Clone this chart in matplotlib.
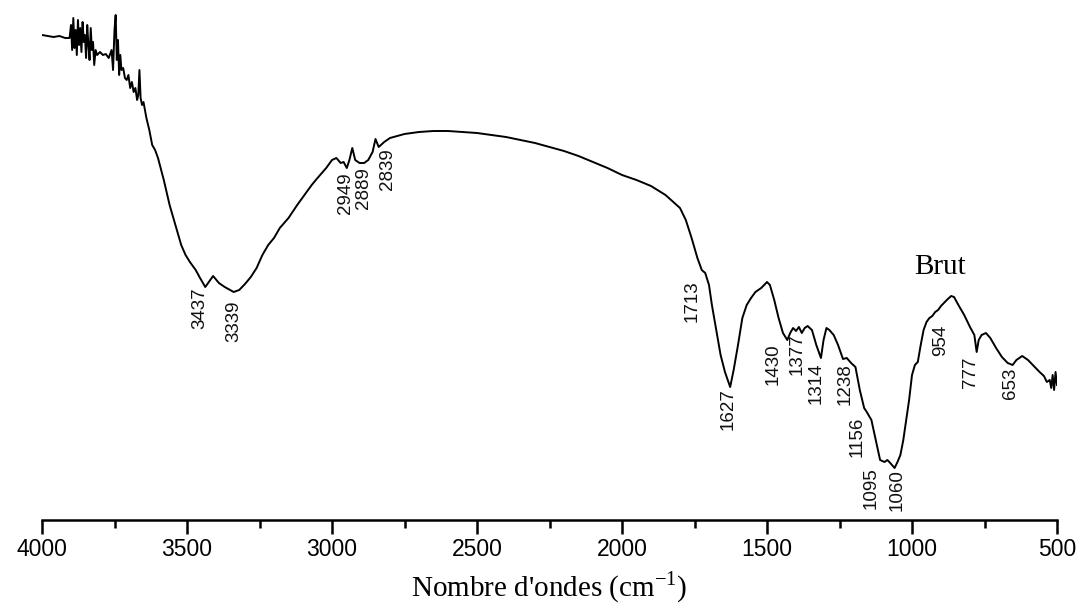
import matplotlib
matplotlib.use("Agg")
import matplotlib.pyplot as plt
from matplotlib.ticker import MultipleLocator

# ---- data: wavenumber (cm-1) and transmittance (arbitrary units) ----
wavenumber = [
    4000, 3980, 3960, 3940, 3920, 3905, 3900, 3896, 3892, 3888, 3884, 3880, 3876,
    3872, 3868, 3864, 3860, 3856, 3852, 3848, 3844, 3840, 3836, 3832, 3828, 3824,
    3820, 3815, 3810, 3800, 3790, 3780, 3770, 3760, 3755, 3750, 3746, 3742, 3738,
    3734, 3730, 3726, 3720, 3714, 3708, 3702, 3696, 3690, 3684, 3678, 3672, 3668,
    3664, 3660, 3655, 3650, 3645, 3640, 3630, 3620, 3610, 3600, 3580, 3560, 3540,
    3520, 3505, 3490, 3470, 3455, 3437, 3420, 3410, 3390, 3370, 3339, 3320, 3300,
    3280, 3260, 3240, 3220, 3200, 3180, 3150, 3120, 3100, 3070, 3050, 3020, 3000,
    2985, 2970, 2960, 2949, 2940, 2930, 2920, 2905, 2889, 2875, 2860, 2850, 2839,
    2820, 2800, 2750, 2700, 2650, 2600, 2550, 2500, 2450, 2400, 2350, 2300, 2250,
    2200, 2150, 2100, 2050, 2000, 1950, 1900, 1850, 1800, 1780, 1760, 1740, 1725,
    1713, 1700, 1690, 1675, 1660, 1645, 1627, 1615, 1600, 1585, 1570, 1555, 1540,
    1520, 1500, 1490, 1475, 1460, 1445, 1430, 1420, 1410, 1400, 1390, 1380, 1370,
    1360, 1345, 1330, 1314, 1305, 1295, 1285, 1270, 1255, 1238, 1225, 1210, 1195,
    1180, 1165, 1156, 1140, 1125, 1110, 1095, 1085, 1075, 1060, 1050, 1040, 1030,
    1020, 1010, 1000, 990, 980, 970, 960, 950, 940, 930, 920, 910, 900, 880, 865,
    855, 840, 820, 800, 785, 777, 770, 760, 745, 730, 710, 690, 670, 653, 640, 620,
    600, 580, 560, 545, 535, 525, 520, 515, 510, 505, 500,
]
transmittance = [
    97.0, 96.8, 96.6, 96.8, 96.4, 96.4, 99.0, 94.0, 100.4, 94.4, 98.0, 93.0, 100.0,
    95.0, 98.4, 93.6, 99.6, 95.6, 97.0, 92.4, 99.0, 95.0, 92.0, 98.4, 94.0, 95.6,
    91.0, 94.0, 93.0, 93.6, 93.0, 93.2, 92.4, 94.0, 90.0, 98.0, 101.0, 92.0, 96.0,
    89.0, 93.0, 90.0, 90.4, 88.4, 88.0, 89.0, 86.4, 87.6, 85.6, 86.4, 84.0, 85.0,
    90.0, 84.4, 83.0, 83.6, 82.0, 80.4, 78.0, 75.0, 74.0, 72.4, 68.0, 63.0, 59.0,
    55.0, 53.0, 51.6, 50.0, 48.4, 46.6, 48.0, 48.8, 47.4, 46.6, 45.6, 46.0, 47.2,
    48.6, 50.4, 53.0, 55.0, 56.4, 58.4, 60.4, 63.0, 64.6, 67.0, 68.4, 70.4, 72.0,
    72.4, 71.4, 71.6, 70.4, 72.0, 74.4, 72.0, 71.4, 71.4, 72.0, 73.6, 76.2, 74.6,
    75.6, 76.4, 77.2, 77.6, 77.8, 77.8, 77.6, 77.4, 77.0, 76.6, 76.0, 75.4, 74.6,
    73.8, 72.8, 71.6, 70.4, 69.0, 68.0, 66.8, 65.0, 62.4, 60.0, 56.4, 52.4, 50.0,
    49.4, 47.0, 43.0, 38.0, 33.0, 29.6, 26.6, 30.0, 35.0, 40.4, 43.0, 44.4, 45.6,
    46.4, 47.6, 47.0, 44.0, 40.4, 37.4, 36.0, 37.4, 38.4, 37.8, 38.6, 37.4, 38.4,
    38.8, 38.0, 35.0, 32.4, 36.0, 38.4, 38.0, 37.0, 35.0, 32.2, 32.4, 31.4, 30.6,
    26.0, 22.4, 21.6, 20.0, 16.0, 12.0, 11.6, 12.0, 11.4, 10.4, 11.6, 13.0, 16.0,
    20.0, 24.0, 29.0, 31.0, 31.6, 35.0, 38.0, 39.6, 40.4, 40.8, 41.6, 42.0, 42.8,
    44.0, 44.8, 44.6, 43.0, 41.0, 38.6, 37.0, 33.6, 36.0, 37.0, 37.4, 36.4, 34.4,
    32.6, 31.4, 31.0, 32.0, 32.8, 32.0, 30.8, 29.6, 28.8, 27.6, 28.0, 26.4, 29.0,
    26.0, 29.6, 27.0,
]

peak_labels = ["3437", "3339", "2949", "2889", "2839", "1713", "1627", "1430",
               "1377", "1314", "1238", "1156", "1095", "1060", "954", "777", "653"]
sample_name = "Brut"
x_label_text = "Nombre d'ondes (cm$^{\\mathregular{-1}}$)"
x_ticks = [4000, 3500, 3000, 2500, 2000, 1500, 1000, 500]

# ---- layout: anchor (top of rotated text) for each peak label, in data units ----
label_anchor = {
    "3437": (3455, 46.6), "3339": (3338, 44.0), "2949": (2955, 69.6),
    "2889": (2893, 70.6), "2839": (2810, 74.4), "1713": (1759, 48.0),
    "1627": (1634, 26.4), "1430": (1479, 35.4), "1377": (1397, 37.4),
    "1314": (1331, 31.4), "1238": (1231, 31.4), "1156": (1190, 20.6),
    "1095": (1141, 10.6), "1060": (1052, 10.2), "954": (903, 39.0),
    "777": (800, 32.6), "653": (662, 30.4),
}
name_anchor = (903, 50.6)

W, H = 1082, 608
fig = plt.figure(figsize=(W / 100, H / 100), dpi=100)
ax = fig.add_axes([42 / W, (H - 520) / H, (1057 - 42) / W, (520 - 10) / H])

ax.plot(wavenumber, transmittance, color="black", lw=1.4)
ax.set_xlim(4000, 500)
ax.set_ylim(0, 102)

for s in ("top", "left", "right"):
    ax.spines[s].set_visible(False)
ax.spines["bottom"].set_linewidth(1.8)
ax.set_yticks([])
ax.set_xticks(x_ticks)
ax.xaxis.set_minor_locator(MultipleLocator(250))
ax.tick_params(axis="x", which="major", direction="out", length=10, width=1.8,
               labelsize=16.5, pad=3)
ax.tick_params(axis="x", which="minor", direction="out", length=6, width=1.8)
for lab in ax.get_xticklabels():
    lab.set_fontfamily("Liberation Sans")

ax.set_xlabel(x_label_text, fontfamily="Liberation Serif", fontsize=21, labelpad=6)

for txt in peak_labels:
    x, y = label_anchor[txt]
    ax.text(x, y, txt, rotation=90, ha="center", va="top", fontsize=13.5,
            fontfamily="Liberation Sans", color="#111111")

ax.text(name_anchor[0], name_anchor[1], sample_name, ha="center", va="center",
        fontsize=21, fontfamily="Liberation Serif")

fig.savefig("out.png", dpi=100)
